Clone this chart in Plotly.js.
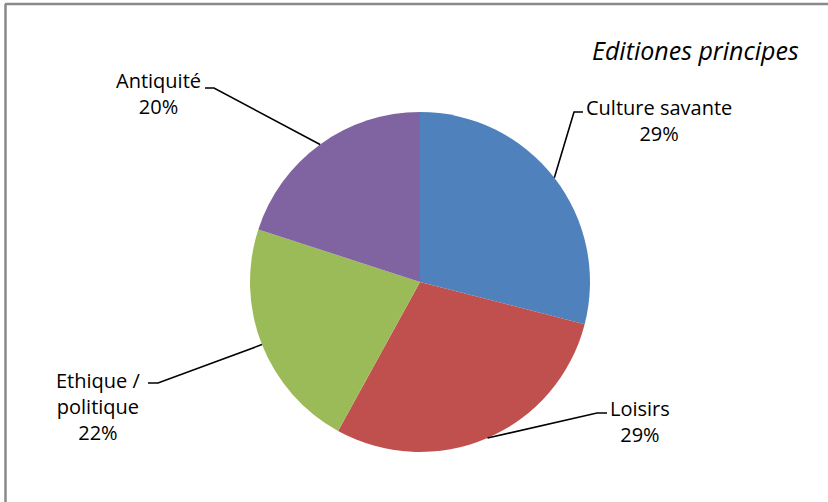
<!DOCTYPE html>
<html>
<head>
<meta charset="utf-8">
<script src="https://cdn.plot.ly/plotly-3.0.1.min.js"></script>
<style>html,body{margin:0;padding:0;background:#fff;}#chart{width:828px;height:502px;}</style>
</head>
<body>
<div id="chart"></div>
<script>
// Data
const categories = ["Culture savante", "Loisirs", "Ethique / politique", "Antiquité"];
const labelTexts = ["Culture savante", "Loisirs", "Ethique /<br>politique", "Antiquité"];
const values = [29, 29, 22, 20];
const colors = ["#4F81BD", "#C0504D", "#9BBB59", "#8064A2"];

// Layout constants (pixels)
const W = 828, H = 502;
const CX = 420, CY = 282, R = 170;
// label text centre (x, y of first line) and leader elbow point
const labelPos = [
  {x: 659, y: 107, ex: 583, ey: 112, hx: 574},
  {x: 640, y: 408, ex: 607, ey: 413, hx: 597},
  {x: 98,  y: 380, ex: 148, ey: 383, hx: 158},
  {x: 158, y: 80,  ex: 205, ey: 88,  hx: 214}
];

const px = x => x / W;
const py = y => 1 - y / H;

const total = values.reduce((a, b) => a + b, 0);
const shapes = [];
const annotations = [];
let cum = 0;
const FONT = "Open Sans, Liberation Sans, sans-serif";
values.forEach((v, i) => {
  const mid = (cum + v / 2) / total * 2 * Math.PI;
  cum += v;
  const ex = CX + R * Math.sin(mid);
  const ey = CY - R * Math.cos(mid);
  const L = labelPos[i];
  shapes.push({
    type: "path", xref: "paper", yref: "paper",
    path: `M ${px(L.ex)} ${py(L.ey)} L ${px(L.hx)} ${py(L.ey)} L ${px(ex)} ${py(ey)}`,
    line: {color: "#000", width: 1.6}
  });
  const pct = Math.round(v / total * 100) + "%";
  annotations.push({
    xref: "paper", yref: "paper", x: px(L.x), y: py(L.y - 15),
    xanchor: "center", yanchor: "top", showarrow: false, align: "center",
    text: labelTexts[i] + "<br>" + pct,
    font: {family: FONT, size: 20, color: "#000"}
  });
});

// frame
shapes.push({type: "line", xref: "paper", yref: "paper", x0: px(5), x1: px(W), y0: py(4), y1: py(4), line: {color: "#8a8a8a", width: 2.5}});
shapes.push({type: "line", xref: "paper", yref: "paper", x0: px(5.5), x1: px(5.5), y0: py(4), y1: py(H), line: {color: "#8a8a8a", width: 2.5}});

annotations.push({
  xref: "paper", yref: "paper", x: px(801), y: py(50), xanchor: "right", yanchor: "middle",
  showarrow: false, text: "<i>Editiones principes</i>",
  font: {family: FONT, size: 25, color: "#000"}
});

const data = [{
  type: "pie",
  labels: categories,
  values: values,
  marker: {colors: colors, line: {width: 0}},
  sort: false,
  direction: "clockwise",
  rotation: 0,
  textinfo: "none",
  hoverinfo: "skip",
  showlegend: false,
  domain: {x: [px(CX - R), px(CX + R)], y: [py(CY + R), py(CY - R)]}
}];

const layout = {
  width: W, height: H,
  margin: {l: 0, r: 0, t: 0, b: 0},
  paper_bgcolor: "#fff",
  showlegend: false,
  shapes: shapes,
  annotations: annotations
};

Plotly.newPlot("chart", data, layout, {displayModeBar: false, staticPlot: true});
</script>
</body>
</html>
